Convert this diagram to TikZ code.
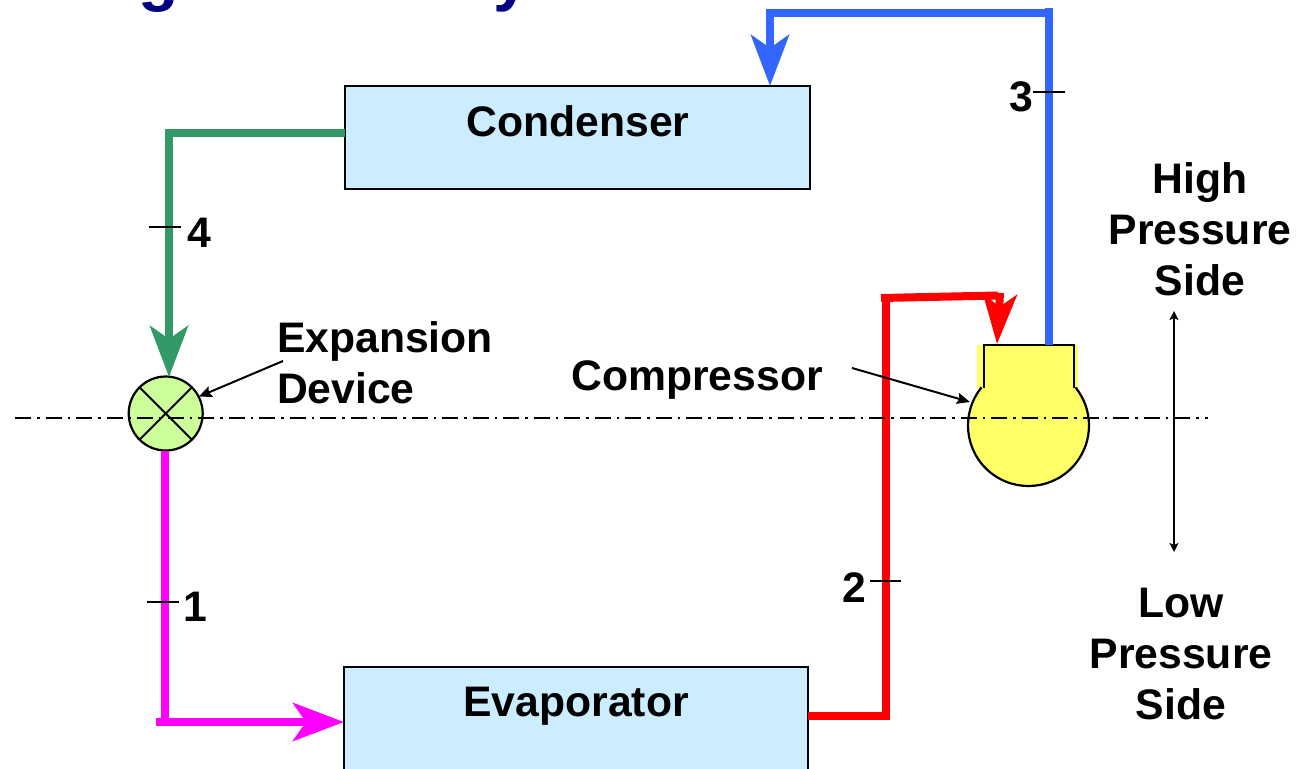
\documentclass[tikz,border=0pt]{standalone}
\usepackage{fontspec}
\setmainfont{Liberation Sans}
\usetikzlibrary{arrows.meta}
\definecolor{boxblue}{HTML}{CCECFF}
\definecolor{compyellow}{HTML}{FFFF66}
\definecolor{valvegreen}{HTML}{CCFF99}
\definecolor{pipegreen}{HTML}{339966}
\definecolor{pipeblue}{HTML}{3366FF}
\definecolor{pipemagenta}{HTML}{FF00FF}
\definecolor{piperred}{HTML}{FF0000}
\definecolor{titlenavy}{HTML}{000080}
\tikzset{
  x=1pt,y=-1pt,
  lbl/.style={font=\fontsize{42.7}{51}\selectfont\bfseries,inner sep=0pt,outer sep=0pt,text=black},
  titleglyph/.style={font=\fontsize{66}{70}\selectfont\bfseries,inner sep=0pt,text=titlenavy,anchor=base},
  unitbox/.style={draw=black,line width=2pt,fill=boxblue,inner sep=0pt,outer sep=0pt,minimum width=#1},
  pipe/.style={line width=8pt,draw=#1},
  pipehead/.style={-{Stealth[length=51pt,width=38pt,inset=13pt]}},
  leader/.style={line width=2pt,-{Stealth[length=13pt,width=11pt,inset=2pt]}},
  tick/.style={line width=1.5pt,draw=black},
  centre line/.style={line width=1.6pt,draw=black,dash pattern=on 16pt off 6pt on 2.5pt off 6pt},
}
\begin{document}
\begin{tikzpicture}
\useasboundingbox (0,0) rectangle (1303,768);
\fill[white] (0,0) rectangle (1303,768);
% cropped title
\node[titleglyph] (titleg) at (159,-1) {g};
\node[titleglyph] (titley) at (512,-1) {y};
% boxes
\node[unitbox=465pt,minimum height=103pt] (cond) at (577.5,137.5) {};
\node[unitbox=464pt,minimum height=110pt] (evap) at (576,722) {};
\node[lbl,anchor=base] (condt) at (578,136) {Condenser};
\node[lbl,anchor=base] (evapt) at (576,716) {Evaporator};
% compressor
\fill[compyellow] (1028.5,425.5) circle[radius=60.5];
\fill[compyellow] (977,345) rectangle (1078,388);
\node[inner sep=0pt,outer sep=0pt,minimum size=121pt,circle] (comp) at (1028.5,425.5) {};
\draw[line width=2.2pt] (comp.141) arc[start angle=-141,end angle=-399,radius=60.5];
\draw[line width=2.2pt] (984,388) -- (984,345) -- (1074,345) -- (1074,388);
% valve
\node[circle,draw=black,line width=2.2pt,fill=valvegreen,minimum size=74pt,inner sep=0pt,outer sep=0pt] (valve) at (165.7,413.5) {};
\draw[line width=2pt] (valve.45) -- (valve.225) (valve.135) -- (valve.315);
% free ends
\coordinate (condW) at (345,133);
\coordinate (condN) at (770,86);
\coordinate (evapE) at (808,716);
\coordinate (compN1) at (1049,345);
\coordinate (compN2) at (997,344);
\coordinate (valveN) at (169,377);
\coordinate (valveS) at (164.5,451);
% pipes
\draw[pipe=pipegreen,pipehead] (condW) -- (169,133) -- (valveN);
\draw[pipe=pipemagenta] (valveS) -- (164.5,722);
\draw[pipe=pipemagenta,pipehead] (156,722) -- (evap.west);
\draw[pipe=piperred] (evapE) -- (886,716) -- (886,298);
\draw[pipe=piperred] (881,298) -- (998,295.5);
\draw[pipe=piperred,-{Stealth[length=50pt,width=34pt,inset=13pt]}] (1000,293) -- (compN2);
\draw[pipe=pipeblue] (compN1) -- (1049,8);
\draw[pipe=pipeblue] (1053,13) -- (770,13);
\draw[pipe=pipeblue,pipehead] (770,9) -- (condN);
% centre line
\coordinate (clL) at (15,418);
\coordinate (clR) at (1208,418);
\draw[centre line] (clL) -- (clR);
% ticks and numbers
\draw[tick] (1033,92) -- (1065,92);
\draw[tick] (149,227) -- (181,227);
\draw[tick] (147,602) -- (179,602);
\draw[tick] (870,581) -- (901,581);
\node[lbl,anchor=base] (n3) at (1021,111) {3};
\node[lbl,anchor=base] (n4) at (199,247) {4};
\node[lbl,anchor=base] (n1) at (195,621) {1};
\node[lbl,anchor=base] (n2) at (854,602) {2};
% labels
\node[lbl,anchor=base west] (expa) at (277,352) {Expansion};
\node[lbl,anchor=base west] (devi) at (277,403) {Device};
\node[lbl,anchor=base] (compt) at (697,390) {Compressor};
\node[lbl,anchor=base] (hi1) at (1200,193) {High};
\node[lbl,anchor=base] (hi2) at (1200,244) {Pressure};
\node[lbl,anchor=base] (hi3) at (1200,295) {Side};
\node[lbl,anchor=base] (lo1) at (1181,617) {Low};
\node[lbl,anchor=base] (lo2) at (1181,668) {Pressure};
\node[lbl,anchor=base] (lo3) at (1181,719) {Side};
% leaders
\coordinate (expL) at (283,361);
\coordinate (cmpL) at (852,368);
\draw[leader] (expL) -- (valve.27);
\draw[leader] (cmpL) -- (970,402);
\coordinate (hiA) at (1174,311);
\coordinate (loA) at (1174,552);
\draw[line width=2pt,{Stealth[length=9pt,width=9pt,inset=2pt]}-{Stealth[length=9pt,width=9pt,inset=2pt]}] (hiA) -- (loA);
\end{tikzpicture}
\end{document}
